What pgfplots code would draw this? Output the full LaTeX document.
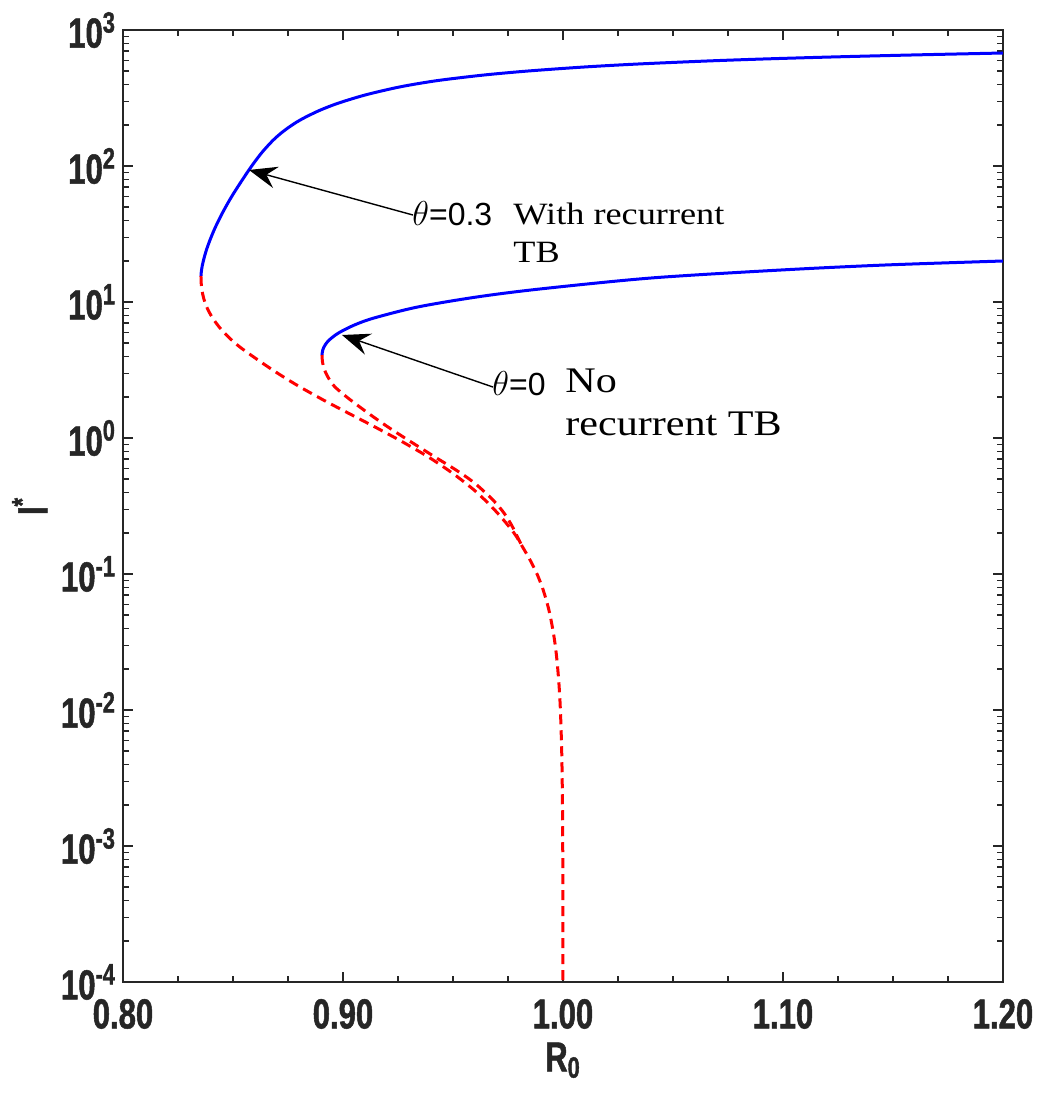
\documentclass[border=0pt]{standalone}
\usepackage{fontspec}
\usepackage{pgfplots}
\usepackage{pgfplotstable}
\pgfplotsset{compat=1.18}
\usetikzlibrary{arrows.meta,calc}
\setmainfont{Liberation Sans}
\newfontfamily\tickfont[FakeStretch=0.74,BoldFeatures={FakeBold=1.2}]{Liberation Sans}
\newfontfamily\notefont[FakeStretch=1.17]{Liberation Serif}
\definecolor{axgray}{RGB}{38,38,38}

% R0  log10(I*)
\pgfplotstableread{
R l
0.83545 1.1912
0.83559 1.2206
0.83600 1.2647
0.83686 1.3235
0.83791 1.3824
0.83955 1.4559
0.84182 1.5441
0.84518 1.6544
0.84982 1.7868
0.85723 1.9706
0.86223 2.0809
0.86532 2.1397
0.86834 2.1912
0.87136 2.2353
0.87491 2.2794
0.87900 2.3235
0.88309 2.3603
0.88977 2.4118
0.89805 2.4632
0.91005 2.5221
0.92341 2.5735
0.93305 2.6029
0.94486 2.6324
0.96409 2.6691
0.98409 2.6985
1.00955 2.7279
1.03409 2.7500
1.06545 2.7721
1.09091 2.7868
1.12182 2.8015
1.15818 2.8162
1.20000 2.8309
}\stableA

\pgfplotstableread{
R l
0.83545 1.1912
0.83554 1.1397
0.83588 1.0882
0.83664 1.0294
0.83800 0.9654
0.83991 0.9044
0.84232 0.8456
0.84486 0.7941
0.84791 0.7426
0.85200 0.6838
0.85682 0.6250
0.86805 0.5000
0.87895 0.3897
0.89109 0.2794
0.90232 0.1838
0.91455 0.0809
0.92714 -0.0294
0.93955 -0.1471
0.95091 -0.2721
0.96114 -0.4044
0.97023 -0.5515
0.97773 -0.6985
0.98159 -0.8000
0.98514 -0.9000
0.98820 -1.0000
0.99063 -1.1000
0.99255 -1.2000
0.99409 -1.3000
0.99581 -1.4500
0.99704 -1.6000
0.99813 -1.8000
0.99882 -2.0000
0.99941 -2.3000
0.99970 -2.6000
0.99988 -3.0000
0.99996 -3.5000
0.99999 -4.0000
}\unstableA

\pgfplotstableread{
R l
0.89045 0.6103
0.89080 0.6471
0.89186 0.6838
0.89373 0.7206
0.89795 0.7721
0.90518 0.8309
0.91409 0.8824
0.93391 0.9632
0.96077 1.0368
0.98945 1.0956
1.04000 1.1765
1.09900 1.2353
1.14636 1.2721
1.20000 1.3015
}\stableB

\pgfplotstableread{
R l
0.89045 0.6103
0.89059 0.5735
0.89095 0.5368
0.89200 0.4853
0.89395 0.4265
0.89636 0.3750
0.90227 0.2941
0.91136 0.1838
0.92045 0.0809
0.92955 -0.0147
0.94182 -0.1397
0.95136 -0.2353
0.95977 -0.3309
0.96818 -0.4559
0.97318 -0.5515
0.97659 -0.6397
0.97932 -0.7279
0.98159 -0.8000
}\unstableB

\begin{document}
\begin{tikzpicture}
\begin{axis}[
    name=ax,
    scale only axis,
    width=440pt, height=476pt,
    xmin=0.8, xmax=1.2,
    ymode=log, ymin=1e-4, ymax=1e3,
    xtick={0.8,0.9,1.0,1.1,1.2},
    xticklabels={0.80,0.90,1.00,1.10,1.20},
    minor x tick num=3,
    ytick={1e-4,1e-3,1e-2,1e-1,1,1e1,1e2,1e3},
    yticklabels={10\textsuperscript{-4},10\textsuperscript{-3},10\textsuperscript{-2},10\textsuperscript{-1},10\textsuperscript{0},10\textsuperscript{1},10\textsuperscript{2},10\textsuperscript{3}},
    minor ytick={2e-4,3e-4,4e-4,5e-4,6e-4,7e-4,8e-4,9e-4,
                 2e-3,3e-3,4e-3,5e-3,6e-3,7e-3,8e-3,9e-3,
                 2e-2,3e-2,4e-2,5e-2,6e-2,7e-2,8e-2,9e-2,
                 0.2,0.3,0.4,0.5,0.6,0.7,0.8,0.9,
                 2,3,4,5,6,7,8,9,
                 20,30,40,50,60,70,80,90,
                 200,300,400,500,600,700,800,900},
    tick align=inside,
    major tick length=5pt, minor tick length=3pt,
    axis line style={axgray, line width=0.8pt},
    every tick/.style={axgray, line width=0.6pt},
    ticklabel style={font=\tickfont\bfseries\fontsize{21}{21}\selectfont, text=axgray},
    xticklabel style={yshift=-5pt},
    label style={font=\tickfont\bfseries\fontsize{21}{21}\selectfont, text=axgray},
    xlabel={R\textsubscript{0}},
    ylabel={I\textsuperscript{*}},
]
\addplot[blue, line width=1.5pt, no marks, smooth] table[x=R, y expr=10^\thisrow{l}] {\stableA};
\addplot[red, line width=1.5pt, no marks, smooth, dash pattern=on 5pt off 3pt] table[x=R, y expr=10^\thisrow{l}] {\unstableA};
\addplot[blue, line width=1.5pt, no marks, smooth] table[x=R, y expr=10^\thisrow{l}] {\stableB};
\addplot[red, line width=1.5pt, no marks, smooth, dash pattern=on 5pt off 3pt] table[x=R, y expr=10^\thisrow{l}] {\unstableB};

\draw[black, line width=0.7pt, -{Stealth[length=14pt,width=11pt,inset=5pt]}]
    (axis cs:0.93182,43.6) -- (axis cs:0.85727,93.5);
\draw[black, line width=0.7pt, -{Stealth[length=14pt,width=11pt,inset=5pt]}]
    (axis cs:0.96818,2.37) -- (axis cs:0.89955,5.72);

\node[anchor=base west, inner sep=0pt, font=\fontsize{16}{19}\selectfont]
    at (axis cs:0.93136,36.8) {$\theta$=0.3};
\node[anchor=base west, inner sep=0pt, align=left, font=\notefont\fontsize{15.5}{19}\selectfont]
    at (axis cs:0.97727,19.4) {With recurrent\\TB};
\node[anchor=base west, inner sep=0pt, font=\fontsize{16}{19}\selectfont]
    at (axis cs:0.96773,2.07) {$\theta$=0};
\node[anchor=base west, inner sep=0pt, align=left, font=\notefont\fontsize{18}{21.5}\selectfont]
    at (axis cs:1.00091,1.052) {No\\recurrent TB};
\end{axis}
\pgfresetboundingbox
\path[use as bounding box] ($(ax.south west)+(-61.5pt,-56.5pt)$) rectangle ($(ax.north east)+(22pt,15pt)$);
\end{tikzpicture}
\end{document}
